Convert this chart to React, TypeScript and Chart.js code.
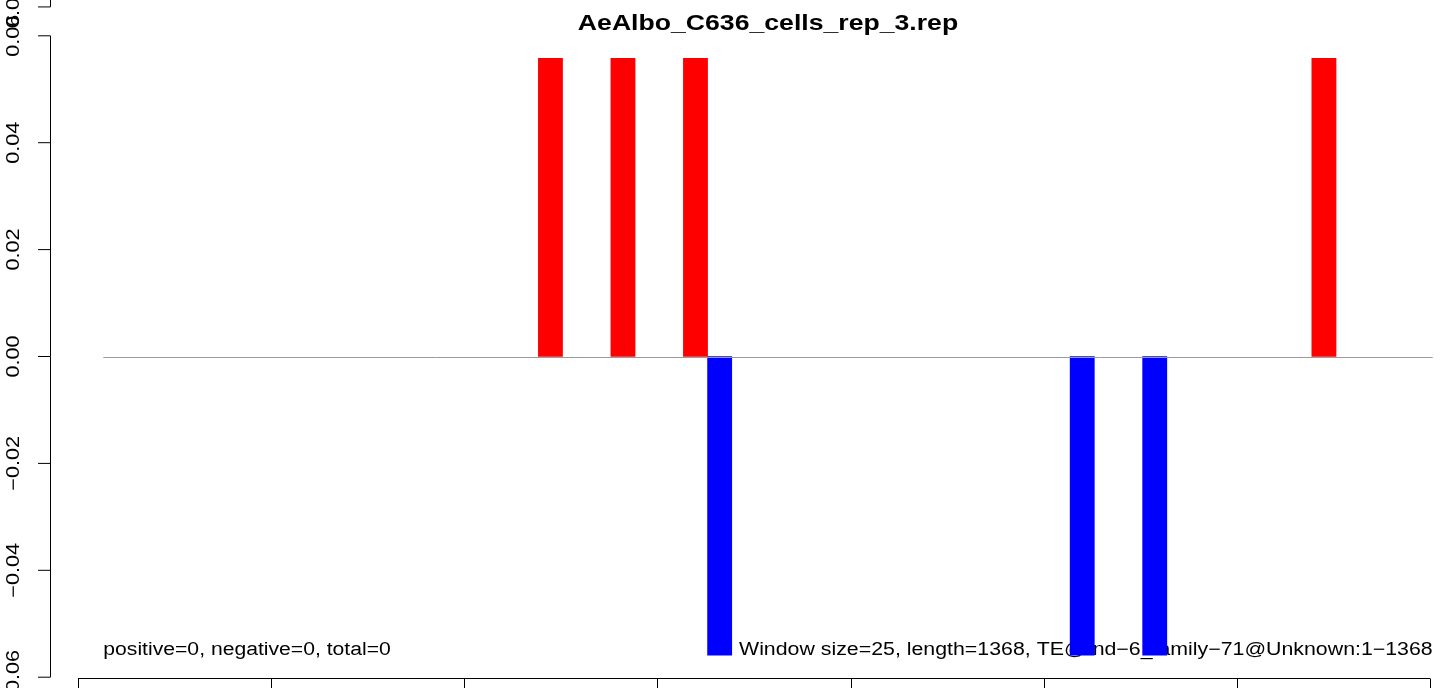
import React, { useEffect, useRef } from "react";
import { Chart, registerables } from "chart.js";

Chart.register(...registerables);

const FONT = '"Liberation Sans", Arial, Helvetica, sans-serif';

// ---- data ----
const TITLE = "AeAlbo_C636_cells_rep_3.rep";
const LEFT_NOTE = "positive=0, negative=0, total=0";
const RIGHT_NOTE = "Window size=25, length=1368, TE@rnd\u22126_family\u221271@Unknown:1\u22121368";
const WINDOW_SIZE = 25;
const WINDOW_COUNT = 55;
const windowLabels = Array.from({ length: WINDOW_COUNT }, (_, i) => String((i + 1) * WINDOW_SIZE));

const redWindows = [18, 21, 24, 50];
const redValues = [0.0558, 0.0558, 0.0558, 0.0558];
const blueWindows = [25, 40, 43];
const blueValues = [-0.0559, -0.0559, -0.0559];

const yTicks = [-0.06, -0.04, -0.02, 0, 0.02, 0.04, 0.06];
const yTickLabels = ["\u22120.06", "\u22120.04", "\u22120.02", "0.00", "0.02", "0.04", "0.06"];
const yExtraTick = 0.0654;
const yExtraLabel = "0.06";
const xTicks = [0, 200, 400, 600, 800, 1000, 1200, 1400];

// horizontal stretch of the reference picture
const SX = 1.2;

function spread(windows: number[], values: number[]) {
  const arr: (number | null)[] = windowLabels.map(() => null);
  windows.forEach((w, i) => {
    arr[w] = values[i];
  });
  return arr;
}

function stretchedText(ctx: any, text: string, x: number, y: number, align: "left" | "right" | "center", sx: number) {
  const w = ctx.measureText(text).width * sx;
  let start = x;
  if (align === "right") start = x - w;
  if (align === "center") start = x - w / 2;
  ctx.save();
  ctx.translate(start, y);
  ctx.scale(sx, 1);
  ctx.textAlign = "left";
  ctx.fillText(text, 0, 0);
  ctx.restore();
}

const rPlugin = {
  id: "rStyle",
  beforeDatasetsDraw(chart: any) {
    const ctx = chart.ctx;
    const x = chart.scales.x;
    ctx.save();
    ctx.fillStyle = "#000";
    ctx.font = `18px ${FONT}`;
    ctx.textBaseline = "alphabetic";
    stretchedText(ctx, LEFT_NOTE, x.left, 655, "left", 1.175);
    stretchedText(ctx, RIGHT_NOTE, x.right, 655, "right", 1.185);
    ctx.restore();
  },
  afterDatasetsDraw(chart: any) {
    const ctx = chart.ctx;
    const x = chart.scales.x;
    const x2 = chart.scales.x2;
    const y = chart.scales.y;
    ctx.save();
    // zero line
    const y0 = Math.round(y.getPixelForValue(0)) + 0.5;
    ctx.strokeStyle = "#9a9a9a";
    ctx.lineWidth = 1;
    ctx.beginPath();
    ctx.moveTo(x.left, y0);
    ctx.lineTo(x.right, y0);
    ctx.stroke();

    // y axis
    ctx.strokeStyle = "#000";
    ctx.lineWidth = 1;
    const ax = 50.5;
    const yTop = y.getPixelForValue(yTicks[yTicks.length - 1]);
    const yBot = y.getPixelForValue(yTicks[0]);
    ctx.beginPath();
    ctx.moveTo(ax, yTop);
    ctx.lineTo(ax, yBot);
    yTicks.forEach((t) => {
      const py = y.getPixelForValue(t);
      ctx.moveTo(ax, py);
      ctx.lineTo(38, py);
    });
    const pe = y.getPixelForValue(yExtraTick);
    ctx.moveTo(ax, pe);
    ctx.lineTo(ax, -5);
    ctx.moveTo(ax, pe);
    ctx.lineTo(38, pe);
    ctx.stroke();

    ctx.fillStyle = "#000";
    ctx.font = `18px ${FONT}`;
    ctx.textBaseline = "alphabetic";
    const drawRot = (label: string, py: number) => {
      ctx.save();
      ctx.translate(18.5, py);
      ctx.rotate(-Math.PI / 2);
      stretchedText(ctx, label, 0, 0, "center", SX);
      ctx.restore();
    };
    yTicks.forEach((t, i) => drawRot(yTickLabels[i], y.getPixelForValue(t)));
    drawRot(yExtraLabel, pe);

    // bottom axis
    const by = 678.5;
    ctx.beginPath();
    const bx0 = x2.getPixelForValue(xTicks[0]);
    const bx1 = x2.getPixelForValue(xTicks[xTicks.length - 1]);
    ctx.moveTo(bx0, by);
    ctx.lineTo(bx1, by);
    xTicks.forEach((t) => {
      const px = Math.round(x2.getPixelForValue(t)) + 0.5;
      ctx.moveTo(px, by);
      ctx.lineTo(px, by + 14);
    });
    ctx.stroke();

    // title
    ctx.font = `bold 22px ${FONT}`;
    stretchedText(ctx, TITLE, (x.left + x.right) / 2, 30, "center", 1.21);
    ctx.restore();
  },
};

export default function App() {
  const ref = useRef<HTMLCanvasElement | null>(null);
  useEffect(() => {
    if (!ref.current) return;
    const chart = new Chart(ref.current, {
      type: "bar",
      data: {
        labels: windowLabels,
        datasets: [
          {
            label: "positive",
            data: spread(redWindows, redValues),
            backgroundColor: "#ff0000",
            borderWidth: 0,
            grouped: false,
            barPercentage: 1,
            categoryPercentage: 1,
          },
          {
            label: "negative",
            data: spread(blueWindows, blueValues),
            backgroundColor: "#0000ff",
            borderWidth: 0,
            grouped: false,
            barPercentage: 1,
            categoryPercentage: 1,
          },
        ],
      },
      options: {
        animation: false,
        responsive: false,
        devicePixelRatio: 1,
        layout: { padding: { left: 103.3, right: 11.3, top: 35.8, bottom: 10.8 } },
        plugins: { legend: { display: false }, tooltip: { enabled: false }, title: { display: false } },
        scales: {
          x: { type: "category", offset: true, display: false, grid: { display: false } },
          x2: {
            type: "linear",
            position: "bottom",
            min: 26.2,
            max: 1402.8,
            offset: false,
            grace: 0,
            bounds: "data",
            display: false,
            grid: { offset: false },
          },
          y: { type: "linear", min: -0.06, max: 0.06, display: false },
        },
      },
      plugins: [rPlugin],
    } as any);
    return () => chart.destroy();
  }, []);
  return (
    <div style={{ position: "fixed", left: 0, top: 0, width: 1444, height: 688, background: "#fff" }}>
      <canvas ref={ref} width={1444} height={688} style={{ display: "block", width: 1444, height: 688 }} />
    </div>
  );
}
